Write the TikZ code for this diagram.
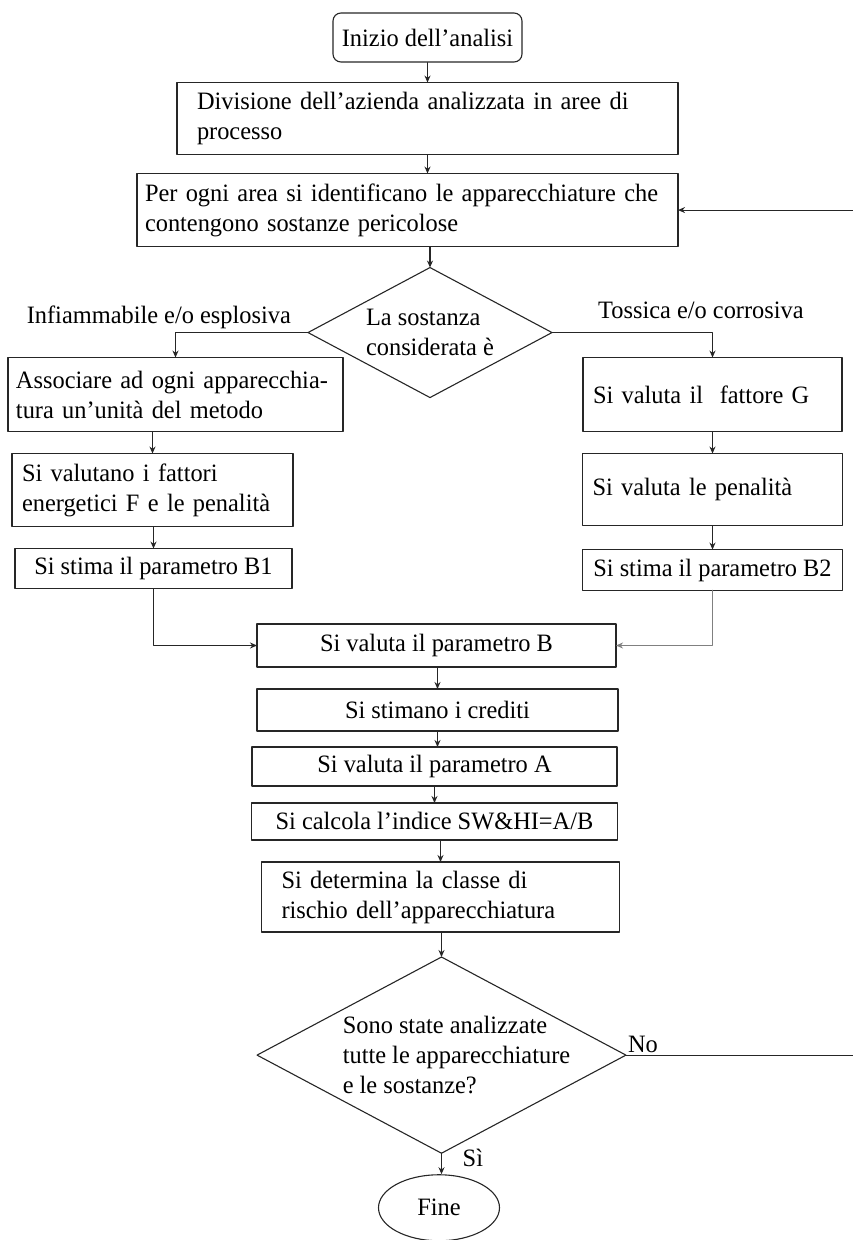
\documentclass[tikz,border=0pt]{standalone}
\usepackage{fontspec}
\setmainfont[FakeStretch=0.975]{Liberation Serif}
\usepackage{tikz}
\usetikzlibrary{arrows.meta,positioning,shapes.geometric}
\definecolor{ink}{HTML}{262626}
\definecolor{greyline}{HTML}{808080}
\tikzset{
    every picture/.style={line cap=round,line join=round},
    procbox/.style={draw=ink,line width=1.1pt,inner xsep=10pt,inner ysep=0pt,
      outer sep=0pt,align=left},
    midbox/.style={procbox,align=center},
    startbox/.style={draw=ink,line width=1.1pt,rounded corners=8pt,
      minimum width=189pt,minimum height=49pt,inner sep=0pt},
    decision/.style={draw=ink,line width=1.1pt,diamond,aspect=1.88,
      inner sep=0pt,outer sep=0pt,align=left},
    endnode/.style={draw=ink,line width=1.1pt,ellipse,minimum width=121pt,
      minimum height=66pt,inner sep=0pt},
    flowarrow/.style={-{Stealth[length=7pt,width=6pt]},draw=ink,line width=1.1pt},
    branchlabel/.style={inner sep=2pt}
}

\begin{document}
\begin{tikzpicture}[x=1pt,y=-1pt,font=\fontsize{25}{30}\selectfont]
  \useasboundingbox (0,0) rectangle (852,1240);
  \node[startbox] (start) at (427.5,37.5) {Inizio dell’analisi};
  \node[procbox,below=20pt of start,inner xsep=20pt,text width=461pt,minimum height=72pt] (div)
    {Divisione dell’azienda analizzata in aree di\\processo};
  \node[procbox,below=19pt of div,xshift=-20pt,inner xsep=8pt,text width=525pt,minimum height=73pt] (per)
    {Per ogni area si identificano le apparecchiature che\\contengono sostanze pericolose};
  \node[decision,below=21pt of per,xshift=22.5pt,minimum width=244pt,minimum height=130pt] (sost)
    {La sostanza\\considerata è};
  \node[branchlabel,above left=2pt and 15pt of sost.west] (infiam) {Infiammabile e/o esplosiva};
  \node[branchlabel,above right=12pt and 44pt of sost.east] (tossica) {Tossica e/o corrosiva};
  \node[procbox,below=25pt of sost.west,xshift=-132.5pt,inner xsep=8pt,text width=319pt,minimum height=74pt] (assoc)
    {Associare ad ogni apparecchia-\\tura un’unità del metodo};
  \node[procbox,below=22pt of assoc,xshift=-23pt,text width=261pt,minimum height=73pt] (fattF)
    {Si valutano i fattori\\energetici F e le penalità};
  \node[midbox,below=22pt of fattF,xshift=1pt,minimum width=277pt,minimum height=40pt] (parB1)
    {Si stima il parametro B1};
  \node[procbox,below=25pt of sost.east,xshift=160.5pt,text width=239pt,minimum height=74pt] (fattG)
    {Si valuta il~~fattore G};
  \node[procbox,below=22pt of fattG,text width=240pt,minimum height=72pt] (penal)
    {Si valuta le penalità};
  \node[midbox,below=24pt of penal,minimum width=260pt,minimum height=41pt] (parB2)
    {Si stima il parametro B2};
  \node[midbox,minimum width=359pt,minimum height=43pt] (parB) at (436.5,645.5)
    {Si valuta il parametro B};
  \node[midbox,below=22pt of parB,xshift=1pt,minimum width=361pt,minimum height=42pt] (cred)
    {Si stimano i crediti};
  \node[midbox,below=16pt of cred,xshift=-3pt,minimum width=365pt,minimum height=39pt] (parA)
    {Si valuta il parametro A};
  \node[midbox,below=17pt of parA,minimum width=366pt,minimum height=37pt] (indice)
    {Si calcola l’indice SW\&HI=A/B};
  \node[procbox,below=22pt of indice,xshift=6pt,inner xsep=20pt,text width=318pt,minimum height=70pt] (classe)
    {Si determina la classe di\\rischio dell’apparecchiatura};
  \node[decision,below=25pt of classe,xshift=1pt,inner sep=-6pt,minimum width=367pt,minimum height=195pt] (check)
    {\hspace*{30pt}Sono state analizzate\\\hspace*{30pt}tutte le apparecchiature\\\hspace*{30pt}e le sostanze?};
  \node[endnode,below=21pt of check,xshift=-2.5pt] (fine) {Fine};
  \node[branchlabel,above right=0pt of check.east] (no) {No};
  \node[branchlabel,right=19pt of check.south,yshift=-5pt] (si) {Sì};
  \coordinate (loopr) at (854,0);
  \draw[flowarrow] (start) -- (div);
  \draw[flowarrow] (div.south) -- (div.south |- per.north);
  \draw[flowarrow] (sost.north |- per.south) -- (sost.north);
  \draw[flowarrow] (sost.west) -| (assoc.north);
  \draw[flowarrow] (sost.east) -| (fattG.north);
  \draw[flowarrow] (assoc.south -| fattF.north) -- (fattF.north);
  \draw[flowarrow] (fattF.south -| parB1.north) -- (parB1.north);
  \draw[flowarrow] (fattG) -- (penal);
  \draw[flowarrow] (penal) -- (parB2);
  \draw[flowarrow] (parB1.south) |- (parB.west);
  \draw[flowarrow,draw=greyline,line width=1.8pt] (parB2.south) |- (parB.east);
  \draw[flowarrow] (parB.south -| cred.north) -- (cred.north);
  \draw[flowarrow] (cred.south) -- (cred.south |- parA.north);
  \draw[flowarrow] (parA.south -| indice.north) -- (indice.north);
  \draw[flowarrow] (indice.south -| classe.north) -- (classe.north);
  \draw[flowarrow] (classe.south -| check.north) -- (check.north);
  \draw[flowarrow] (check.south) -- (check.south |- fine.north);
  \draw[flowarrow] (check.east) -- (check.east -| loopr) |- (per.east);
\end{tikzpicture}
\end{document}
